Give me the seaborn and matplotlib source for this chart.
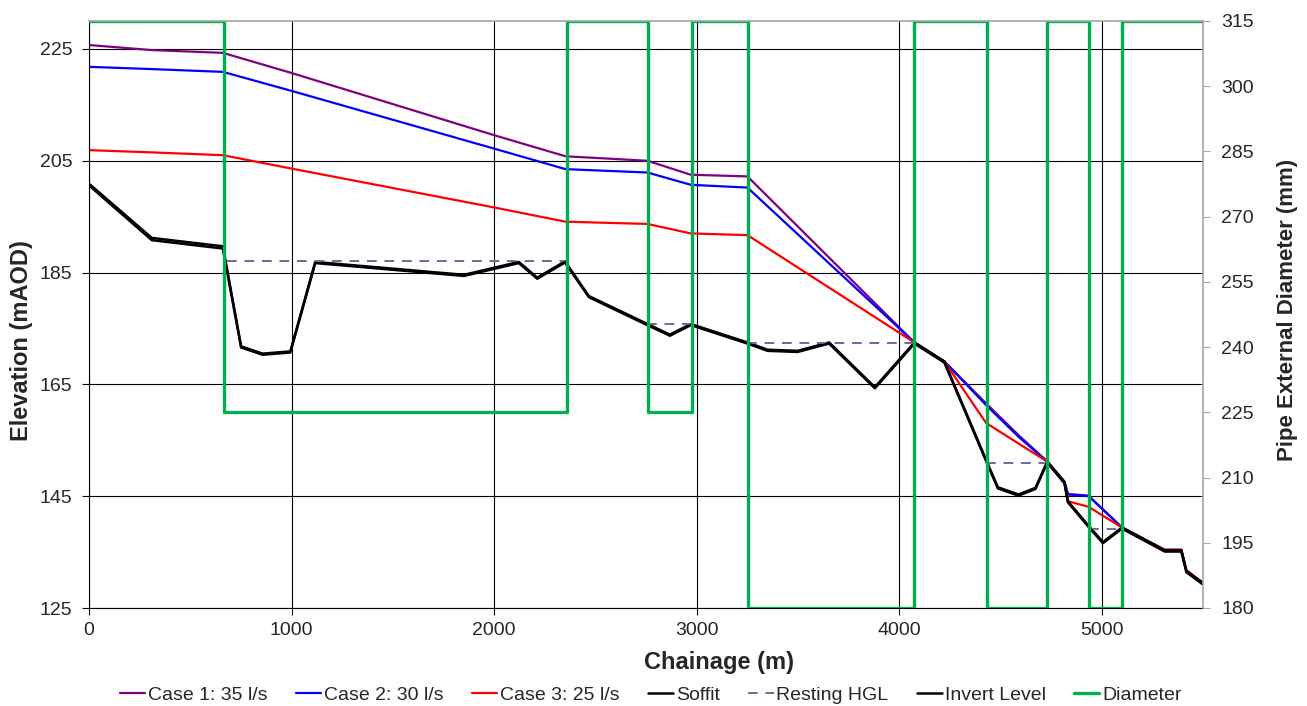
import numpy as np
import pandas as pd
import matplotlib
matplotlib.use("Agg")
import matplotlib.pyplot as plt
import seaborn as sns

# ---------------- data ----------------
# Hydraulic grade lines for the three flow cases (chainage m, elevation mAOD)
case_ch = [0, 310, 661, 1000, 2007, 2353, 2757, 2971, 3251, 4075, 4223, 4429,
           4590, 4731, 4816, 4833, 4935, 5100, 5311, 5393, 5418, 5500]
case1_el = [225.7, 224.8, 224.3, 220.7, 209.5, 205.8, 205.0, 202.5, 202.2, 172.5, 169.1, 161.6,
            155.9, 151.2, 147.6, 145.4, 145.1, 139.4, 135.4, 135.4, 131.7, 129.5]
case2_el = [221.8, 221.4, 220.9, 217.5, 207.1, 203.5, 202.9, 200.7, 200.2, 172.5, 169.1, 161.3,
            155.6, 151.2, 147.6, 145.3, 145.0, 139.4, 135.4, 135.4, 131.7, 129.5]
case3_el = [206.9, 206.5, 206.0, 203.6, 196.6, 194.1, 193.7, 192.0, 191.7, 172.5, 169.1, 158.1,
            154.4, 151.2, 147.5, 144.1, 143.1, 139.4, 135.4, 135.4, 131.7, 129.5]

# Pipe profile
pipe_ch = [0, 310, 661, 751, 857, 994, 1117, 1851, 2122, 2213, 2350, 2468, 2757, 2868,
           2971, 3251, 3350, 3498, 3654, 3880, 4075, 4223, 4429, 4487, 4589, 4673, 4731,
           4816, 4833, 4935, 5006, 5100, 5311, 5393, 5418, 5500]
invert_el = [200.6, 190.8, 189.3, 171.6, 170.3, 170.7, 186.7, 184.4, 186.7, 183.9, 186.8,
             180.6, 175.6, 173.7, 175.6, 172.3, 171.0, 170.8, 172.3, 164.3, 172.3, 168.9,
             151.3, 146.4, 145.1, 146.3, 151.0, 147.3, 143.9, 139.5, 136.6, 139.2, 135.1,
             135.1, 131.4, 129.2]
soffit_el = [200.9, 191.2, 189.7, 171.8, 170.5, 170.9, 186.9, 184.6, 186.9, 184.1, 187.0,
             180.8, 175.8, 173.9, 175.8, 172.5, 171.2, 171.0, 172.5, 164.5, 172.5, 169.1,
             151.5, 146.6, 145.3, 146.5, 151.2, 147.5, 144.1, 139.7, 136.8, 139.4, 135.3,
             135.3, 131.6, 129.4]

# Resting HGL (separate ponded segments)
hgl_segment = [1, 1, 2, 2, 3, 3, 4, 4, 5, 5]
hgl_ch = [680, 2350, 2757, 2971, 3251, 4075, 4429, 4731, 4935, 5095]
hgl_el = [187.1, 187.1, 175.8, 175.8, 172.4, 172.4, 151.0, 151.0, 139.1, 139.1]

# Pipe external diameter (mm), step changes along chainage
diam_ch = [0, 667, 2358, 2758, 2976, 3253, 4073, 4434, 4731, 4938, 5101, 5500]
diam_mm = [315, 225, 315, 225, 315, 180, 315, 180, 315, 180, 315, 315]

x_ticks = [0, 1000, 2000, 3000, 4000, 5000]
y_ticks = [125, 145, 165, 185, 205, 225]
y2_ticks = [180, 195, 210, 225, 240, 255, 270, 285, 300, 315]

# ---------------- style ----------------
sns.set_style("white")
plt.rcParams["font.family"] = ["Liberation Sans", "DejaVu Sans"]

W, H = 1307, 706
fig = plt.figure(figsize=(W / 100, H / 100), dpi=100)
L, R, T, B = 89, 1203, 21, 608
ax = fig.add_axes([L / W, 1 - B / H, (R - L) / W, (B - T) / H])
ax2 = ax.twinx()

handles = []
kw = dict(estimator=None, sort=False, legend=False)

sns.lineplot(x=case_ch, y=case1_el, color="#800080", lw=1.6, ax=ax, **kw)
handles.append((ax.get_lines()[-1], "Case 1: 35 l/s"))
sns.lineplot(x=case_ch, y=case2_el, color="#0000ff", lw=1.6, ax=ax, **kw)
handles.append((ax.get_lines()[-1], "Case 2: 30 l/s"))
sns.lineplot(x=case_ch, y=case3_el, color="#ff0000", lw=1.6, ax=ax, **kw)
handles.append((ax.get_lines()[-1], "Case 3: 25 l/s"))
sns.lineplot(x=pipe_ch, y=soffit_el, color="black", lw=1.8, ax=ax, **kw)
handles.append((ax.get_lines()[-1], "Soffit"))

hgl_df = pd.DataFrame({"seg": hgl_segment, "ch": hgl_ch, "el": hgl_el})
sns.lineplot(data=hgl_df, x="ch", y="el", units="seg", color="#7464a0", lw=1.4,
             ax=ax, **kw)
for ln in ax.get_lines()[-5:]:
    ln.set_dashes([5, 4])
handles.append((ax.get_lines()[-1], "Resting HGL"))

sns.lineplot(x=pipe_ch, y=invert_el, color="black", lw=1.8, ax=ax, **kw)
handles.append((ax.get_lines()[-1], "Invert Level"))

sns.lineplot(x=diam_ch, y=diam_mm, color="#00b050", lw=2.4, drawstyle="steps-post",
             ax=ax2, **kw)
handles.append((ax2.get_lines()[-1], "Diameter"))

# ---------------- axes ----------------
ax.set_xlim(0, 5500)
ax.set_ylim(125, 230)
ax2.set_ylim(180, 315)
ax.set_xticks(x_ticks)
ax.set_yticks(y_ticks)
ax2.set_yticks(y2_ticks)

ax.grid(True, color="black", lw=0.8)
ax.set_axisbelow(True)

for s in ["left", "bottom"]:
    ax.spines[s].set_color("black")
    ax.spines[s].set_linewidth(0.8)
for s in ["top", "right"]:
    ax.spines[s].set_visible(False)
for s in ["left", "bottom"]:
    ax2.spines[s].set_visible(False)
for s in ["top", "right"]:
    ax2.spines[s].set_color("#a6a6a6")
    ax2.spines[s].set_linewidth(1.2)

ax.tick_params(axis="both", which="major", labelsize=14, length=5, width=0.8,
               color="black", direction="out", left=True, bottom=True)
ax.tick_params(axis="y", pad=7)
ax.tick_params(axis="x", pad=5)
ax2.tick_params(axis="y", labelsize=14, length=5, width=0.8, color="#a6a6a6",
                direction="out", right=True, pad=8)

ax.set_xlabel("Chainage (m)", fontsize=17, fontweight="bold")
ax.xaxis.label.set_va("center")
ax.xaxis.set_label_coords((719 - L) / (R - L), (B - 663) / (B - T))
ax.set_ylabel("Elevation (mAOD)", fontsize=17, fontweight="bold")
ax.yaxis.label.set_va("center")
ax.yaxis.set_label_coords((22 - L) / (R - L), (B - 341) / (B - T))
ax2.set_ylabel("Pipe External Diameter (mm)", fontsize=16, fontweight="bold")
ax2.yaxis.label.set_va("center")
ax2.yaxis.set_label_coords((1288 - L) / (R - L), (B - 310) / (B - T))

fig.legend([h for h, _ in handles], [l for _, l in handles], loc="center",
           bbox_to_anchor=(651 / W, 1 - 695 / H), ncol=7, frameon=False,
           fontsize=14, handlelength=1.3, handletextpad=0.15, columnspacing=1.45,
           borderaxespad=0, borderpad=0)

fig.savefig("out.png", dpi=100)
